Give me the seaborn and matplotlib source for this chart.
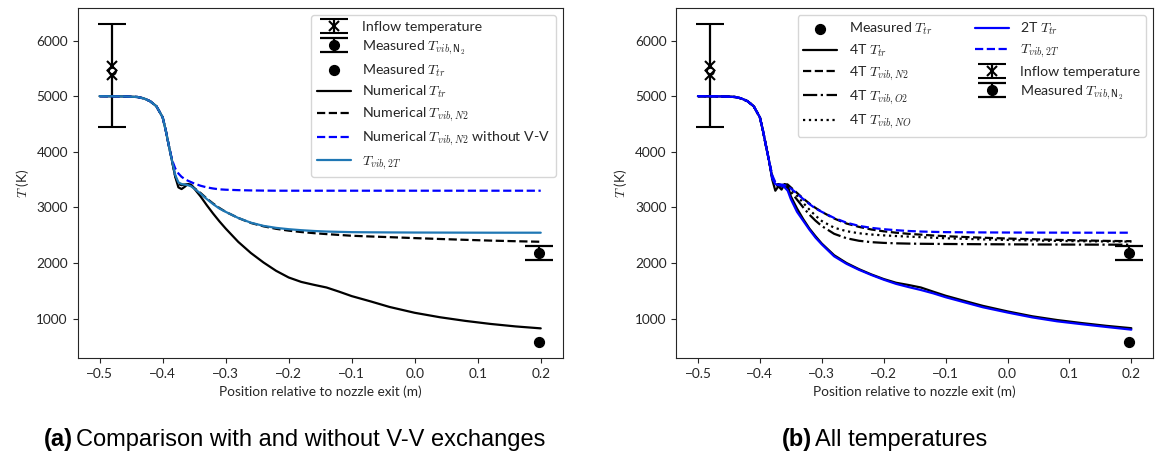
import numpy as np
import pandas as pd
import matplotlib
matplotlib.use("Agg")
import matplotlib.pyplot as plt
import seaborn as sns

# positions along the nozzle axis (m)
x_pos = [-0.50, -0.46, -0.44, -0.43, -0.42, -0.41, -0.40, -0.395, -0.39, -0.385,
         -0.38, -0.375, -0.37, -0.365, -0.36, -0.355, -0.35, -0.34, -0.33, -0.32,
         -0.31, -0.30, -0.28, -0.26, -0.24, -0.22, -0.20, -0.18, -0.16, -0.14,
         -0.12, -0.10, -0.07, -0.04, 0.0, 0.04, 0.08, 0.12, 0.16, 0.20]

# shared upstream part (first 10 points)
t_inlet = [5000, 4995, 4985, 4960, 4910, 4820, 4620, 4380, 4100, 3830]

# (a) comparison with / without V-V
num_ttr = t_inlet + [3550, 3360, 3330, 3370, 3420, 3410, 3340, 3200, 3040, 2890,
                     2750, 2620, 2380, 2180, 2010, 1860, 1740, 1660, 1608, 1560,
                     1485, 1405, 1310, 1210, 1105, 1025, 960, 905, 860, 825]
num_tvib_n2 = t_inlet + [3560, 3420, 3400, 3410, 3420, 3400, 3350, 3260, 3160, 3070,
                         2990, 2920, 2810, 2720, 2660, 2615, 2582, 2557, 2537, 2520,
                         2505, 2490, 2477, 2465, 2448, 2432, 2417, 2403, 2392, 2382]
num_tvib_n2_novv = t_inlet[:9] + [3850,
                                  3700, 3610, 3550, 3510, 3480, 3455, 3430, 3390, 3360, 3340,
                                  3325, 3318, 3310, 3305, 3302, 3300, 3300, 3300, 3300, 3300,
                                  3300, 3300, 3300, 3300, 3300, 3300, 3300, 3300, 3300, 3300]
tvib_2t = t_inlet + [3580, 3450, 3420, 3410, 3400, 3380, 3340, 3250, 3150, 3060,
                     2980, 2920, 2810, 2725, 2668, 2632, 2608, 2590, 2576, 2566,
                     2560, 2555, 2552, 2550, 2548, 2547, 2546, 2545, 2545, 2545]

# (b) all temperatures
ttr_4t = t_inlet + [3500, 3300, 3380, 3320, 3420, 3400, 3200, 2980, 2790, 2620,
                    2480, 2350, 2140, 2000, 1890, 1795, 1712, 1645, 1605, 1560,
                    1485, 1412, 1320, 1230, 1130, 1042, 975, 920, 870, 828]
tvib_n2_4t = t_inlet + [3540, 3400, 3420, 3390, 3430, 3410, 3360, 3260, 3160, 3070,
                        2990, 2920, 2800, 2710, 2650, 2603, 2570, 2545, 2525, 2510,
                        2495, 2482, 2468, 2455, 2440, 2428, 2416, 2406, 2398, 2392]
tvib_o2_4t = t_inlet + [3540, 3400, 3390, 3380, 3380, 3350, 3280, 3140, 3000, 2870,
                        2760, 2665, 2525, 2445, 2400, 2375, 2362, 2354, 2349, 2346,
                        2344, 2342, 2340, 2338, 2336, 2334, 2332, 2331, 2330, 2330]
tvib_no_4t = t_inlet + [3560, 3430, 3400, 3400, 3410, 3390, 3330, 3210, 3080, 2960,
                        2850, 2755, 2635, 2572, 2535, 2512, 2497, 2485, 2475, 2465,
                        2455, 2445, 2435, 2425, 2415, 2405, 2398, 2392, 2388, 2385]
ttr_2t = t_inlet + [3520, 3420, 3400, 3390, 3360, 3300, 3150, 2920, 2760, 2600,
                    2455, 2335, 2120, 1985, 1878, 1785, 1700, 1625, 1568, 1515,
                    1455, 1385, 1295, 1205, 1110, 1022, 952, 900, 850, 802]

# measurements
inflow_x = -0.48
inflow_t = 5380
inflow_err = [[930], [920]]
inflow_extra = [5540]
meas_x = 0.197
meas_ttr = 575
meas_tvib = 2180
meas_tvib_err = [[130], [130]]

sns.set_style("ticks")
plt.rcParams['font.family'] = ['Lato', 'DejaVu Sans']
plt.rcParams['mathtext.fontset'] = 'cm'
plt.rcParams['font.size'] = 9.8

fig = plt.figure(figsize=(11.58, 4.67), dpi=100)
ax1 = fig.add_axes([0.067, 0.233, 0.419, 0.75])
ax2 = fig.add_axes([0.584, 0.233, 0.4117, 0.75])

lw = 1.6


def line(ax, y, label, color, ls):
    sns.lineplot(x=x_pos, y=y, ax=ax, color=color, linestyle=ls, linewidth=lw,
                 sort=False, estimator=None, label=label, legend=False)
    return ax.get_lines()[-1]


def inflow(ax):
    h = ax.errorbar([inflow_x], [inflow_t], yerr=inflow_err, fmt='x', color='k',
                    ms=7, mew=1.5, elinewidth=1.6, capsize=10, capthick=1.6,
                    label='Inflow temperature')
    ax.plot([inflow_x] * len(inflow_extra), inflow_extra, 'x', color='k', ms=7, mew=1.5)
    ax.plot([inflow_x], [(inflow_t + inflow_extra[0]) / 2], 'o', mfc='white',
            mec='k', ms=5, mew=1.2)
    return h


def meas(ax):
    h1 = ax.errorbar([meas_x], [meas_tvib], yerr=meas_tvib_err, fmt='o', color='k',
                     ms=7, elinewidth=1.6, capsize=10, capthick=1.6,
                     label=r'Measured $T_{vib,\mathsf{N_2}}$')
    h2 = ax.scatter([meas_x], [meas_ttr], s=50, color='k', label=r'Measured $T_{tr}$')
    return h1, h2


# ---- (a)
h_in = inflow(ax1)
h_mv, h_mt = meas(ax1)
l1 = line(ax1, num_ttr, r'Numerical $T_{tr}$', 'k', '-')
l2 = line(ax1, num_tvib_n2, r'Numerical $T_{vib,N2}$', 'k', '--')
l3 = line(ax1, num_tvib_n2_novv, r'Numerical $T_{vib,N2}$ without V-V', 'blue', '--')
l4 = line(ax1, tvib_2t, r'$T_{vib,2T}$', '#1f77b4', '-')
ax1.legend([h_in, h_mv, h_mt, l1, l2, l3, l4],
           [h.get_label() for h in [h_in, h_mv, h_mt, l1, l2, l3, l4]],
           loc='upper right', fontsize=10.2, handlelength=2.4, labelspacing=0.38)

# ---- (b)
h_in2 = inflow(ax2)
h_mv2, h_mt2 = meas(ax2)
m1 = line(ax2, ttr_4t, r'4T $T_{tr}$', 'k', '-')
m2 = line(ax2, tvib_n2_4t, r'4T $T_{vib,N2}$', 'k', '--')
m3 = line(ax2, tvib_o2_4t, r'4T $T_{vib,O2}$', 'k', '-.')
m4 = line(ax2, tvib_no_4t, r'4T $T_{vib,NO}$', 'k', ':')
m5 = line(ax2, ttr_2t, r'2T $T_{tr}$', 'blue', '-')
m6 = line(ax2, tvib_2t, r'$T_{vib,2T}$', 'blue', '--')
hs = [h_mt2, m1, m2, m3, m4, m5, m6, h_in2, h_mv2]
ax2.legend(hs, [h.get_label() for h in hs], loc='upper right', ncol=2,
           fontsize=10.2, handlelength=2.4, labelspacing=0.38, columnspacing=3.0)

for ax in (ax1, ax2):
    ax.set_xlabel('Position relative to nozzle exit (m)')
    ax.set_ylabel(r'$T$ (K)')
    ax.set_yticks([1000, 2000, 3000, 4000, 5000, 6000])
    ax.set_xticks([-0.5, -0.4, -0.3, -0.2, -0.1, 0.0, 0.1, 0.2])

cap = dict(fontsize=17, family='Liberation Sans', va='center', color='black')
fig.text(0.063, 0.058, '(a)', ha='right', weight='bold', **cap)
fig.text(0.066, 0.058, 'Comparison with and without V-V exchanges', ha='left', **cap)
fig.text(0.701, 0.058, '(b)', ha='right', weight='bold', **cap)
fig.text(0.704, 0.058, 'All temperatures', ha='left', **cap)

fig.savefig('out.png', dpi=100)
